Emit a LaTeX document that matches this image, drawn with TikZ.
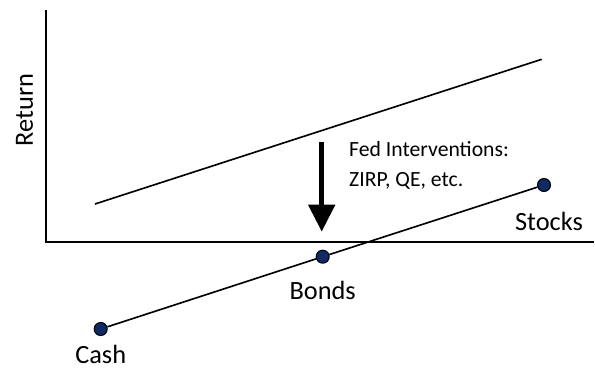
\documentclass[tikz,border=0pt]{standalone}
\usepackage{fontspec}
\setmainfont{Carlito}
\usetikzlibrary{arrows,arrows.meta,positioning}
\definecolor{navy}{RGB}{16,42,102}
\tikzset{
    dot/.style = {draw, circle, fill=navy,
        minimum size=0.39cm, inner sep=0pt, line width=0.9pt},
    txt/.style = {font=\fontsize{22.5}{27}\selectfont, inner sep=0.5pt},
    smalltxt/.style = {font=\fontsize{18.5}{25.5}\selectfont, align=left, inner sep=0pt},
    line/.style = {draw, line width=1.4pt},
    bigarrow/.style = {draw, line width=0.15cm, -{Triangle[width=0.78cm,length=0.81cm]}}
}

\begin{document}
\begin{tikzpicture}[auto, node distance=1cm, >=latex', x=0.03cm, y=-0.03cm]
        \useasboundingbox (0,0) rectangle (595,368);
        % axes
        \coordinate (ytop) at (45.7,10);
        \coordinate (origin) at (45.7,242);
        \coordinate (xend) at (594,242);
        \draw [line] (ytop) -- (origin) -- (xend);
        \node [txt, rotate=90] (return) at (24.5,110) {Return};
        % line before
        \coordinate (before1) at (95,204);
        \coordinate (before2) at (541.7,59.3);
        \draw [line] (before1) -- (before2);
        % line after
        \node [dot] (cash) at (100.7,329) {};
        \node [dot] (bonds) at (322.7,256.7) {};
        \node [dot] (stocks) at (544,185) {};
        \draw [line] (cash) -- (bonds) -- (stocks);
        \node [txt, below of=cash, node distance=0.76cm] (cashlbl) {Cash};
        \node [txt, below of=bonds, node distance=1.02cm] (bondslbl) {Bonds};
        \node [txt, below of=stocks, node distance=1.1cm, xshift=0.15cm] (stockslbl) {Stocks};
        % fed
        \coordinate (fedtop) at (321.7,141.7);
        \coordinate (fedtip) at (321.7,231.7);
        \draw [bigarrow] (fedtop) -- (fedtip);
        \node [smalltxt, anchor=base west] (fed) at (349,186) {Fed Interventions:\\ZIRP, QE, etc.};
    \end{tikzpicture}
\end{document}
